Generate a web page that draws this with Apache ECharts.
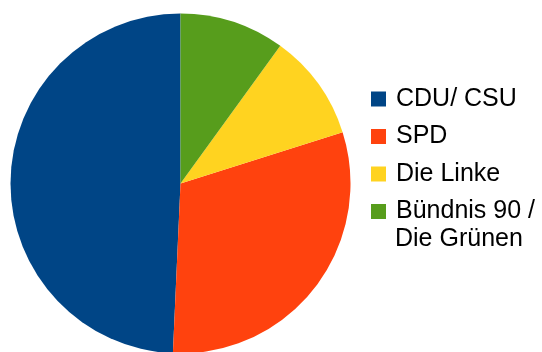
<!DOCTYPE html>
<html>
<head>
<meta charset="utf-8">
<script src="https://cdn.jsdelivr.net/npm/echarts@6/dist/echarts.min.js"></script>
<style>html,body{margin:0;padding:0;background:#fff;}#c{width:542px;height:352px;}</style>
</head>
<body>
<div id="c"></div>
<script>
const categories = ['CDU/ CSU', 'SPD', 'Die Linke', 'Bündnis 90 / Die Grünen'];
const seats = [311, 193, 64, 63];
const colors = ['#004586', '#ff420e', '#ffd320', '#579d1c'];

const chart = echarts.init(document.getElementById('c'), null, {renderer: 'canvas'});
chart.setOption({
  animation: false,
  backgroundColor: '#ffffff',
  textStyle: {fontFamily: 'Liberation Sans'},
  legend: {
    orient: 'vertical',
    left: 371,
    top: 86,
    padding: 0,
    itemWidth: 15,
    itemHeight: 15,
    itemGap: 11.5,
    icon: 'rect',
    itemStyle: {borderWidth: 0},
    textStyle: {fontFamily: 'Liberation Sans', fontSize: 25, lineHeight: 26, color: '#000', padding: [0,0,0,5]},
    formatter: function (n) { return n === categories[3] ? 'Bündnis 90 /' : n; },
    selectedMode: false,
    data: categories
  },
  graphic: [{
    type: 'text',
    left: 395,
    top: 226,
    style: {text: 'Die Grünen', fontFamily: 'Liberation Sans', fontSize: 25, lineHeight: 26, fill: '#000'}
  }],
  series: [{
    type: 'pie',
    center: [180.5, 183.5],
    radius: 170,
    startAngle: 90,
    clockwise: false,
    label: {show: false},
    labelLine: {show: false},
    emphasis: {disabled: true},
    itemStyle: {borderWidth: 0},
    data: categories.map((c, i) => ({name: c, value: seats[i], itemStyle: {color: colors[i]}}))
  }]
});
</script>
</body>
</html>
